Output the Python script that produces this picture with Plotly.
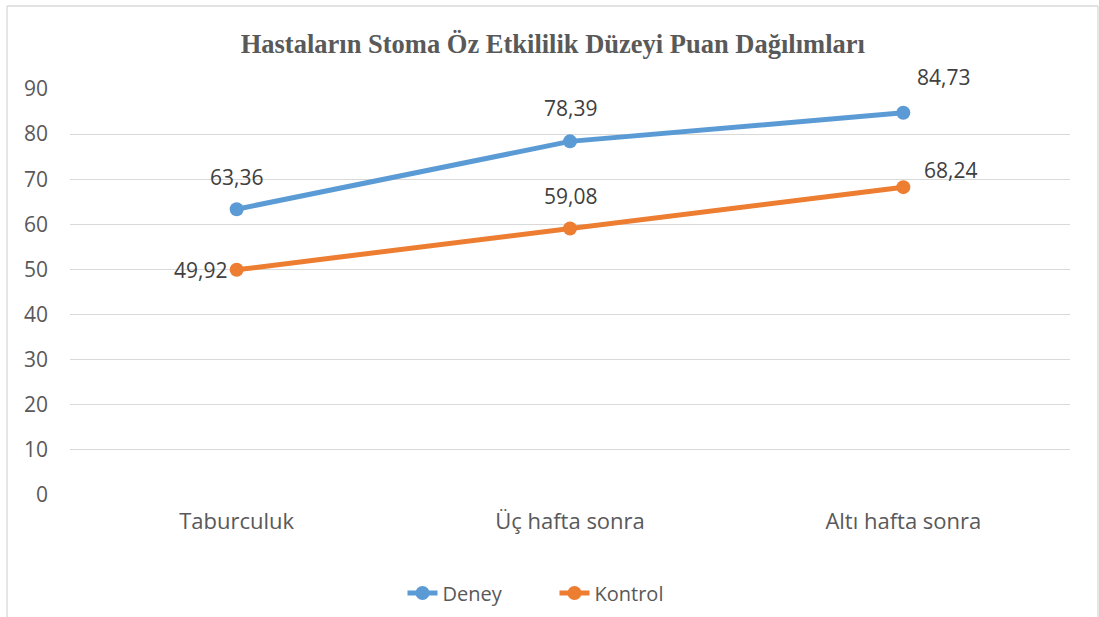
import plotly.graph_objects as go

categories = ["Taburculuk", "Üç hafta sonra", "Altı hafta sonra"]
deney = [63.36, 78.39, 84.73]
kontrol = [49.92, 59.08, 68.24]
y_ticks = [0, 10, 20, 30, 40, 50, 60, 70, 80, 90]
title_text = "Hastaların Stoma Öz Etkililik Düzeyi Puan Dağılımları"

W, H = 1099, 617
ML, MR, MT, MB = 70, 29, 89, 122

def fmt(v):
    return f"{v:.2f}".replace(".", ",")

fig = go.Figure()
fig.add_trace(go.Scatter(x=categories, y=deney, mode="lines+markers", name="Deney",
                         line=dict(color="#5B9BD5", width=5),
                         marker=dict(color="#5B9BD5", size=14)))
fig.add_trace(go.Scatter(x=categories, y=kontrol, mode="lines+markers", name="Kontrol",
                         line=dict(color="#ED7D31", width=5),
                         marker=dict(color="#ED7D31", size=14)))

label_font = dict(family="Open Sans", size=21, color="#404040")
deney_shift = [(0, 32), (0, 33), (40, 36)]
kontrol_shift = [(-36, 0), (0, 32), (47, 17)]
annotations = []
for i, c in enumerate(categories):
    annotations.append(dict(x=c, y=deney[i], xref="x", yref="y", text=fmt(deney[i]),
                            showarrow=False, font=label_font,
                            xshift=deney_shift[i][0], yshift=deney_shift[i][1]))
    annotations.append(dict(x=c, y=kontrol[i], xref="x", yref="y", text=fmt(kontrol[i]),
                            showarrow=False, font=label_font,
                            xshift=kontrol_shift[i][0], yshift=kontrol_shift[i][1]))

pw = W - ML - MR
ph = H - MT - MB
bx0 = (7 - ML) / pw
bx1 = (1098 - ML) / pw
by1 = (H - MB - 6) / ph
by0 = (H - MB - 700) / ph
border = dict(color="#D9D9D9", width=1.3)

fig.update_layout(
    width=W, height=H, autosize=False,
    margin=dict(l=ML, r=MR, t=MT, b=MB),
    paper_bgcolor="white", plot_bgcolor="white",
    title=dict(text="<b>" + title_text + "</b>", x=0.503, xanchor="center", xref="container",
               y=1 - 44 / H, yanchor="middle",
               font=dict(family="Liberation Serif", size=26.5, color="#595959")),
    xaxis=dict(type="category", range=[-0.5, 2.5], showgrid=False, showline=False,
               zeroline=False, ticks="", tickfont=dict(family="Open Sans", size=22, color="#595959"),
               ticklabelstandoff=11, automargin=False),
    yaxis=dict(range=[0, 90], tickvals=y_ticks, showgrid=True, gridcolor="#D9D9D9",
               gridwidth=1.3, zeroline=False, showline=False, ticks="",
               tickfont=dict(family="Open Sans", size=21, color="#595959"),
               ticklabelstandoff=21, automargin=False),
    legend=dict(orientation="h", x=0.5 + 5 / W, xanchor="center", xref="container",
                yref="container", y=1 - 593 / H,
                yanchor="middle", font=dict(family="Open Sans", size=20, color="#595959"),
                entrywidth=107, entrywidthmode="pixels", tracegroupgap=0),
    annotations=annotations,
    shapes=[
        dict(type="line", xref="paper", yref="paper", x0=bx0, x1=bx0, y0=by0, y1=by1, line=border, layer="below"),
        dict(type="line", xref="paper", yref="paper", x0=bx0, x1=bx1, y0=by1, y1=by1, line=border, layer="below"),
        dict(type="line", xref="paper", yref="paper", x0=bx1, x1=bx1, y0=by0, y1=by1, line=border, layer="below"),
    ],
    showlegend=True,
)

fig.write_html("out.html", config={"responsive": False, "displayModeBar": False},
               post_script="document.body.style.margin='0';document.body.style.overflow='hidden';")
